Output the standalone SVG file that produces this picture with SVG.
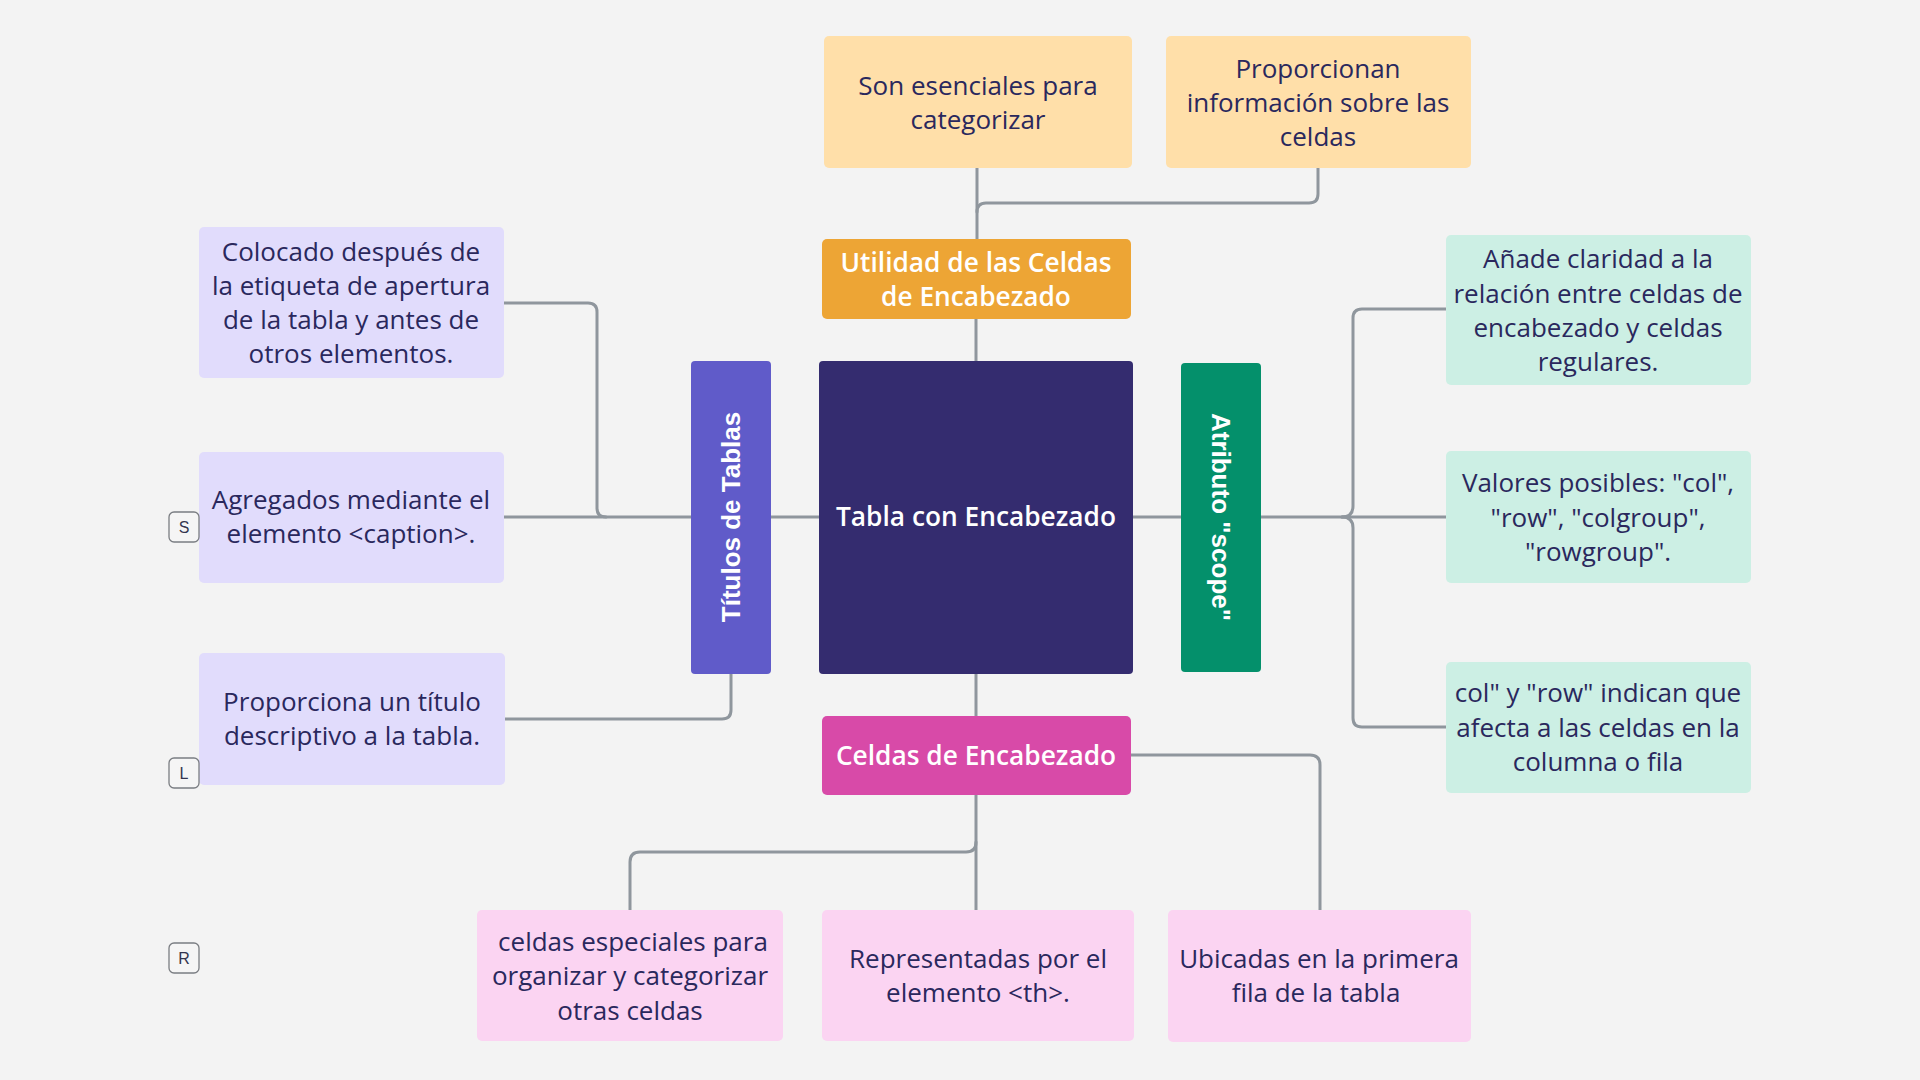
<svg xmlns="http://www.w3.org/2000/svg" width="1920" height="1080" viewBox="0 0 1920 1080">
<style>
.t{font-family:"Open Sans","Liberation Sans",sans-serif;font-size:26px;fill:#2a285d;text-anchor:middle}
.w{font-family:"Open Sans","Liberation Sans",sans-serif;font-size:26.3px;font-weight:600;fill:#ffffff;text-anchor:middle}
.v{font-family:"Liberation Sans",Arial,sans-serif;font-size:26px;font-weight:bold;fill:#ffffff;text-anchor:middle}
.c{fill:none;stroke:#8f969d;stroke-width:3;stroke-linecap:round;stroke-linejoin:round}
.b{fill:#f5f5f5;stroke:#7a7d82;stroke-width:1.3}
.bt{font-family:"Liberation Sans",Arial,sans-serif;font-size:16px;fill:#33354f;text-anchor:middle}
.lav{fill:#e1dcfc}.pea{fill:#ffdfa9}.min{fill:#ccefe4}.pin{fill:#fbd4f2}
</style>
<rect width="1920" height="1080" fill="#f3f3f3"/>
<g id="connectors">
<path class="c" d="M977,168 V239"/>
<path class="c" d="M977,212 Q977,203 986,203 H1309 Q1318,203 1318,194 V168"/>
<path class="c" d="M976,319 V361"/>
<path class="c" d="M819,517 H771"/>
<path class="c" d="M691,517 H504"/>
<path class="c" d="M504,303 H588 Q597,303 597,312 V508 Q597,517 606,517"/>
<path class="c" d="M731,674 V710 Q731,719 722,719 H505"/>
<path class="c" d="M1133,517 H1181"/>
<path class="c" d="M1261,517 H1446"/>
<path class="c" d="M1342,517 Q1353,517 1353,506 V318 Q1353,309 1362,309 H1446"/>
<path class="c" d="M1342,517 Q1353,517 1353,528 V718 Q1353,727 1362,727 H1446"/>
<path class="c" d="M976,674 V716"/>
<path class="c" d="M976,795 V910"/>
<path class="c" d="M976,842 Q976,852 966,852 H640 Q630,852 630,862 V910"/>
<path class="c" d="M1131,755 H1310 Q1320,755 1320,765 V910"/>
</g>
<g id="n-son">
<rect class="pea" x="824" y="36" width="308" height="132" rx="5"/>
<text class="t" x="978" y="95">Son esenciales para</text>
<text class="t" x="978" y="129">categorizar</text>
</g>
<g id="n-proporcionan">
<rect class="pea" x="1166" y="36" width="305" height="132" rx="5"/>
<text class="t" x="1318" y="78">Proporcionan</text>
<text class="t" x="1318" y="112">información sobre las</text>
<text class="t" x="1318" y="146">celdas</text>
</g>
<g id="n-utilidad">
<rect x="822" y="239" width="309" height="80" rx="5" fill="#eda535"/>
<text class="w" x="976" y="272">Utilidad de las Celdas</text>
<text class="w" x="976" y="306">de Encabezado</text>
</g>
<g id="n-colocado">
<rect class="lav" x="199" y="227" width="305" height="151" rx="5"/>
<text class="t" x="351" y="261">Colocado después de</text>
<text class="t" x="351" y="295">la etiqueta de apertura</text>
<text class="t" x="351" y="329">de la tabla y antes de</text>
<text class="t" x="351" y="363">otros elementos.</text>
</g>
<g id="n-agregados">
<rect class="lav" x="199" y="452" width="305" height="131" rx="5"/>
<text class="t" x="351" y="509">Agregados mediante el</text>
<text class="t" x="351" y="543">elemento &lt;caption&gt;.</text>
</g>
<g id="n-proporciona">
<rect class="lav" x="199" y="653" width="306" height="132" rx="5"/>
<text class="t" x="352" y="711">Proporciona un título</text>
<text class="t" x="352" y="745">descriptivo a la tabla.</text>
</g>
<g id="n-titulos">
<rect x="691" y="361" width="80" height="313" rx="4" fill="#605bc9"/>
<text class="v" transform="translate(740,517) rotate(-90)" x="0" y="0">Títulos de Tablas</text>
</g>
<g id="n-tabla">
<rect x="819" y="361" width="314" height="313" rx="4" fill="#342c6f"/>
<text class="w" x="976" y="526">Tabla con Encabezado</text>
</g>
<g id="n-atributo">
<rect x="1181" y="363" width="80" height="309" rx="4" fill="#04906b"/>
<text class="v" transform="translate(1212,517) rotate(90)" x="0" y="0">Atributo "scope"</text>
</g>
<g id="n-anade">
<rect class="min" x="1446" y="235" width="305" height="150" rx="5"/>
<text class="t" x="1598" y="268">Añade claridad a la</text>
<text class="t" x="1598" y="303">relación entre celdas de</text>
<text class="t" x="1598" y="337">encabezado y celdas</text>
<text class="t" x="1598" y="371">regulares.</text>
</g>
<g id="n-valores">
<rect class="min" x="1446" y="451" width="305" height="132" rx="5"/>
<text class="t" x="1598" y="492">Valores posibles: "col",</text>
<text class="t" x="1598" y="527">"row", "colgroup",</text>
<text class="t" x="1598" y="561">"rowgroup".</text>
</g>
<g id="n-col">
<rect class="min" x="1446" y="662" width="305" height="131" rx="5"/>
<text class="t" x="1598" y="702">col" y "row" indican que</text>
<text class="t" x="1598" y="737">afecta a las celdas en la</text>
<text class="t" x="1598" y="771">columna o fila</text>
</g>
<g id="n-celdas">
<rect x="822" y="716" width="309" height="79" rx="5" fill="#d84aa8"/>
<text class="w" x="976" y="765">Celdas de Encabezado</text>
</g>
<g id="n-especiales">
<rect class="pin" x="477" y="910" width="306" height="131" rx="5"/>
<text class="t" x="633" y="951">celdas especiales para</text>
<text class="t" x="630" y="985">organizar y categorizar</text>
<text class="t" x="630" y="1020">otras celdas</text>
</g>
<g id="n-representadas">
<rect class="pin" x="822" y="910" width="312" height="131" rx="5"/>
<text class="t" x="978" y="968">Representadas por el</text>
<text class="t" x="978" y="1002">elemento &lt;th&gt;.</text>
</g>
<g id="n-ubicadas">
<rect class="pin" x="1168" y="910" width="303" height="132" rx="5"/>
<text class="t" x="1319" y="968">Ubicadas en la primera</text>
<text class="t" x="1316" y="1002">fila de la tabla</text>
</g>
<g id="badge-s">
<rect class="b" x="169" y="512" width="30" height="30" rx="5"/>
<text class="bt" x="184" y="533">S</text>
</g>
<g id="badge-l">
<rect class="b" x="169" y="758" width="30" height="30" rx="5"/>
<text class="bt" x="184" y="779">L</text>
</g>
<g id="badge-r">
<rect class="b" x="169" y="943" width="30" height="30" rx="5"/>
<text class="bt" x="184" y="964">R</text>
</g>
</svg>
